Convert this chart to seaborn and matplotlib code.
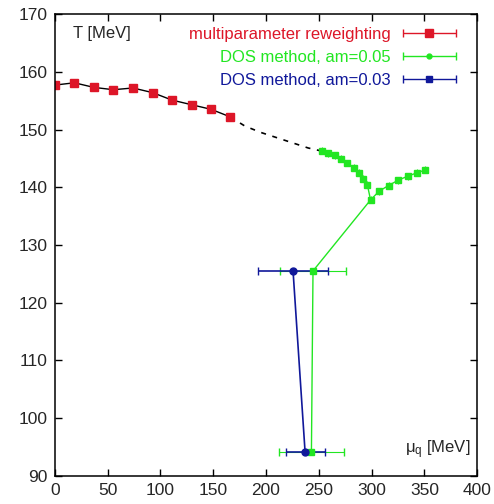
import numpy as np
import pandas as pd
import seaborn as sns
import matplotlib.pyplot as plt
from matplotlib.legend_handler import HandlerErrorbar

# data
red_mu = [0, 18.5, 37, 55.5, 74, 92.5, 111, 129.5, 148, 166]
red_T = [157.7, 158.1, 157.3, 156.9, 157.2, 156.4, 155.1, 154.3, 153.5, 152.2]

dash_mu = [166, 180, 195, 210, 225, 240, 252]
dash_T = [152.2, 150.6, 149.5, 148.6, 147.7, 146.8, 146.3]

green_mu = [253, 259, 265, 271, 277, 283, 288, 292, 296, 299, 307, 316, 325, 334, 343, 351]
green_T = [146.3, 145.9, 145.5, 144.9, 144.2, 143.4, 142.5, 141.5, 140.4, 137.8,
           139.3, 140.3, 141.2, 141.9, 142.5, 143.0]
green_Terr = [0.6] * len(green_mu)

green_low_mu = [299, 244.5, 243]
green_low_T = [137.8, 125.5, 94.1]
green_low_xerr = [0, 31, 31]

blue_mu = [225.6, 237]
blue_T = [125.5, 94.1]
blue_xerr = [33, 18.5]

red_c = '#dd1628'
green_c = '#22e622'
blue_c = '#10189a'

sns.set_style("ticks")
plt.rcParams['font.family'] = ['Liberation Sans', 'DejaVu Sans']

fig, ax = plt.subplots(figsize=(4.94, 5.04), dpi=100)
fig.subplots_adjust(left=0.111, right=0.966, bottom=0.056, top=0.972)

# black fit line through the reweighting points, then dashed extension
sns.lineplot(x=red_mu, y=red_T, ax=ax, color='black', lw=1.0, sort=False, estimator=None)
sns.lineplot(x=dash_mu, y=dash_T, ax=ax, color='black', lw=1.2, sort=False,
             estimator=None, linestyle=(0, (3, 4)))

# green DOS am=0.05
sns.lineplot(x=green_mu, y=green_T, ax=ax, color=green_c, lw=1.0, sort=False, estimator=None)
sns.lineplot(x=green_low_mu, y=green_low_T, ax=ax, color=green_c, lw=1.0, sort=False, estimator=None)
ax.errorbar(green_mu, green_T, yerr=green_Terr, fmt='s', color=green_c,
            ms=5, capsize=0, lw=0.8)
ax.errorbar(green_low_mu[1:], green_low_T[1:], xerr=green_low_xerr[1:], fmt='s',
            color=green_c, ms=5, capsize=3, lw=0.8)

# blue DOS am=0.03
sns.lineplot(x=blue_mu, y=blue_T, ax=ax, color=blue_c, lw=1.2, sort=False, estimator=None)
ax.errorbar(blue_mu, blue_T, xerr=blue_xerr, fmt='o', color=blue_c, ms=5,
            capsize=3, lw=1.2)

# red reweighting
ax.errorbar(red_mu, red_T, yerr=[0.3] * len(red_mu), fmt='s', color=red_c, ms=6,
            capsize=0, lw=0.8)

# legend handles (gnuplot style: text first, then sample)
nan = [np.nan]
lh_red = ax.errorbar(nan, nan, xerr=[1], fmt='s', color=red_c, ms=6, capsize=3, lw=1)
lh_green = ax.errorbar(nan, nan, xerr=[1], fmt='o', color=green_c, ms=3.5, capsize=3, lw=1)
lh_blue = ax.errorbar(nan, nan, xerr=[1], fmt='s', color=blue_c, ms=4.5, capsize=3, lw=1)
ax.legend([lh_red, lh_green, lh_blue],
          ['multiparameter reweighting', 'DOS method, am=0.05', 'DOS method, am=0.03'],
          loc='upper right', bbox_to_anchor=(0.983, 1.0), markerfirst=False,
          frameon=False, fontsize=12,
          labelcolor=[red_c, green_c, blue_c], handlelength=3.4, handletextpad=0.6,
          labelspacing=0.5, borderaxespad=0.35,
          handler_map={type(lh_red): HandlerErrorbar(xerr_size=1.6)})

ax.text(0.043, 0.959, 'T [MeV]', transform=ax.transAxes, fontsize=12,
        ha='left', va='center')
ax.text(0.83, 0.056, r'$\mathregular{\mu_q}$ [MeV]', transform=ax.transAxes, fontsize=12,
        ha='left', va='center')

ax.set_xlim(0, 400)
ax.set_ylim(90, 170)
ax.set_xticks(np.arange(0, 401, 50))
ax.set_yticks(np.arange(90, 171, 10))
ax.tick_params(direction='in', length=5, width=1, top=True, right=True,
               labelsize=12.5, color='black', pad=5)
for s in ax.spines.values():
    s.set_linewidth(1.1)
    s.set_color('black')

fig.savefig('out.png', dpi=100)
